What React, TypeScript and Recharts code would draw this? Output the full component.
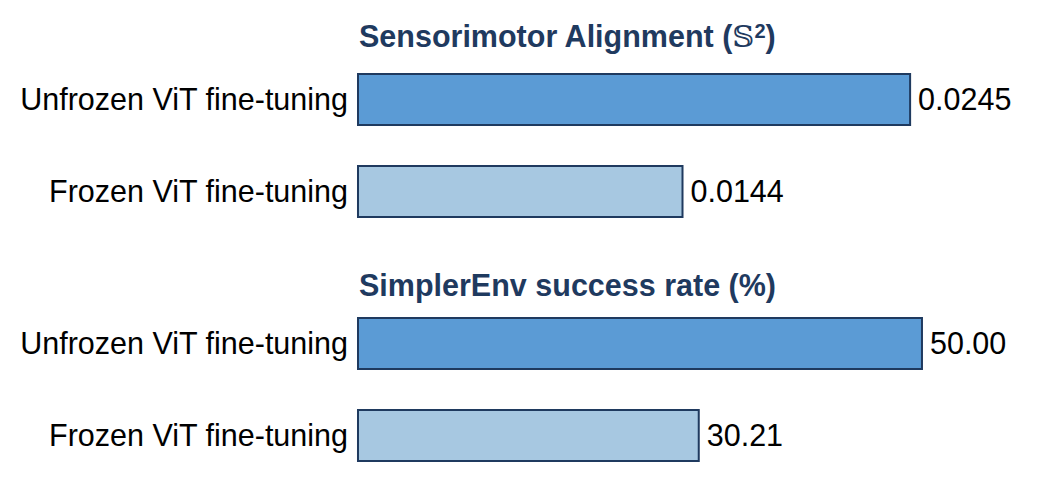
import { Bar, BarChart, Cell, LabelList, XAxis, YAxis } from 'recharts'

const methods = ['Unfrozen ViT fine-tuning', 'Frozen ViT fine-tuning']
const alignmentScores = [0.0245, 0.0144]
const successRates = [50.0, 30.21]
const barColors = ['#5b9bd5', '#a7c8e1']

const FONT = '"Liberation Sans", Arial, sans-serif'
const TITLE_COLOR = '#1f3a5f'
const FS = 30.5

type PanelProps = {
  values: number[]
  domainMax: number
  digits: number
  top: number
}

function Panel({ values, domainMax, digits, top }: PanelProps) {
  const data = methods.map((name, i) => ({ name, value: values[i] }))
  return (
    <div style={{ position: 'absolute', left: 0, top }}>
      <BarChart
        width={1054}
        height={245}
        data={data}
        layout="vertical"
        margin={{ top: 53, right: 56, bottom: 8, left: 0 }}
        barSize={51}
      >
        <XAxis type="number" domain={[0, domainMax]} hide />
        <YAxis
          type="category"
          dataKey="name"
          width={358}
          axisLine={false}
          tickLine={false}
          tickSize={6}
          tickMargin={4}
          tick={{ fill: '#000', fontSize: FS, fontFamily: FONT }}
        />
        <Bar dataKey="value" stroke={TITLE_COLOR} strokeWidth={2} isAnimationActive={false}>
          {data.map((_, i) => (
            <Cell key={i} fill={barColors[i]} />
          ))}
          <LabelList
            dataKey="value"
            position="right"
            offset={8}
            formatter={(v: number) => Number(v).toFixed(digits)}
            style={{ fill: '#000', fontSize: FS, fontFamily: FONT }}
          />
        </Bar>
      </BarChart>
    </div>
  )
}

const titleStyle: React.CSSProperties = {
  position: 'absolute',
  left: 359,
  fontFamily: FONT,
  fontWeight: 'bold',
  fontSize: FS,
  color: TITLE_COLOR,
  whiteSpace: 'nowrap',
  lineHeight: '34px',
}

export default function App() {
  return (
    <div style={{ position: 'absolute', left: 0, top: 0, width: 1054, height: 487, background: '#fff' }}>
      <Panel values={alignmentScores} domainMax={0.0284} digits={4} top={0} />
      <Panel values={successRates} domainMax={56.74} digits={2} top={244} />
      <div style={{ ...titleStyle, top: 19 }}>
        Sensorimotor Alignment (
        <span style={{ fontFamily: '"DejaVu Serif", serif', fontWeight: 'normal' }}>𝕊</span>
        <sup style={{ fontSize: 20, verticalAlign: 'top', lineHeight: '24px' }}>2</sup>)
      </div>
      <div style={{ ...titleStyle, top: 268 }}>SimplerEnv success rate (%)</div>
    </div>
  )
}
